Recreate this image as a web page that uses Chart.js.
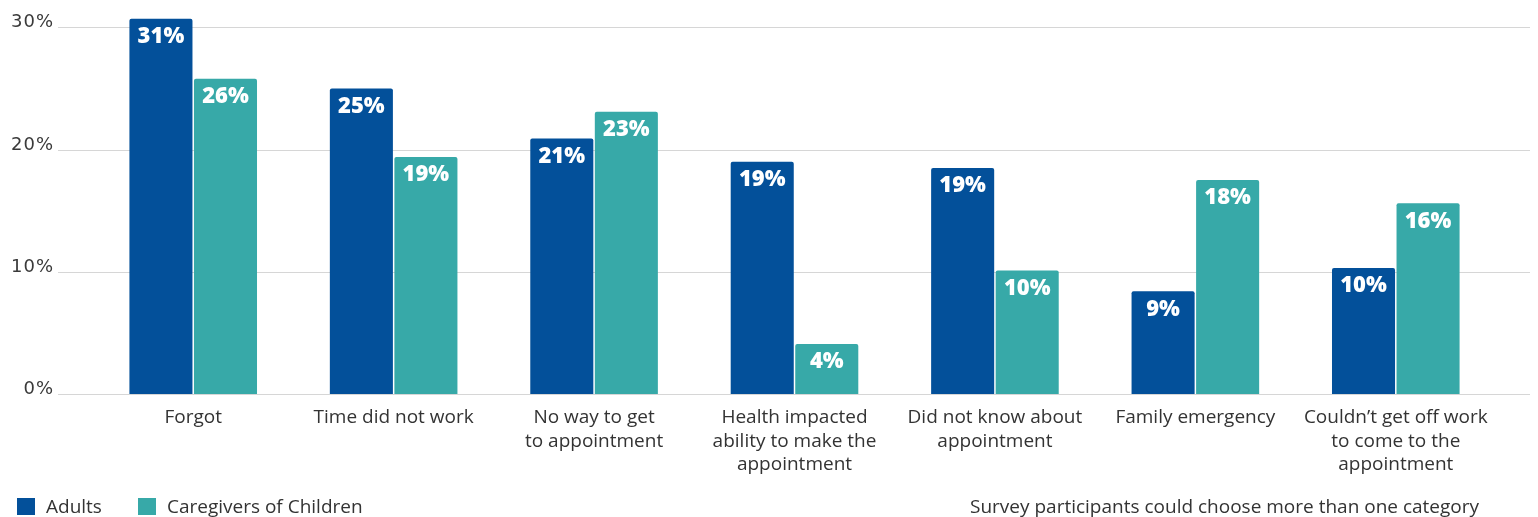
<!DOCTYPE html>
<html lang="en">
<head>
    <meta charset="UTF-8">
    <title>Reasons for missed appointments</title>
    <script src="https://cdn.jsdelivr.net/npm/chart.js"></script>
    <style>
        body { margin: 0; background: #fff; font-family: "Open Sans", sans-serif; color: #333; }
        .wrap { position: relative; width: 1538px; height: 517px; overflow: hidden; }
        .legend { position: absolute; left: 17px; top: 493px; font-size: 19px; white-space: nowrap; }
        .legend span.box { display: inline-block; width: 18px; height: 17px; vertical-align: -2px; margin-right: 11px; }
        .legend span.item { margin-right: 36px; }
        .note { position: absolute; left: 970px; top: 493px; font-size: 19px; white-space: nowrap; }
    </style>
</head>
<body>
<div class="wrap">
    <canvas id="chart" width="1538" height="517"></canvas>
    <div class="legend" id="legend"></div>
    <div class="note">Survey participants could choose more than one category</div>
</div>
<script>
    // data
    const categories = [
        ["Forgot"],
        ["Time did not work"],
        ["No way to get", "to appointment"],
        ["Health impacted", "ability to make the", "appointment"],
        ["Did not know about", "appointment"],
        ["Family emergency"],
        ["Couldn\u2019t get off work", "to come to the", "appointment"]
    ];
    const adults = [30.7, 25.0, 20.9, 19.0, 18.5, 8.4, 10.3];
    const caregivers = [25.8, 19.4, 23.1, 4.1, 10.1, 17.5, 15.6];
    const adultLabels = ["31%", "25%", "21%", "19%", "19%", "9%", "10%"];
    const caregiverLabels = ["26%", "19%", "23%", "4%", "10%", "18%", "16%"];
    const yTicks = [0, 10, 20, 30];

    const blue = "#03509a";
    const teal = "#37a9a8";

    // long grey gridlines running past the bars, with the % labels above them
    const gridPlugin = {
        id: "wideGrid",
        beforeDatasetsDraw(chart) {
            const ctx = chart.ctx;
            const y = chart.scales.y;
            ctx.save();
            ctx.strokeStyle = "#d6d6d6";
            ctx.lineWidth = 1;
            ctx.fillStyle = "#3a3a3a";
            ctx.font = "18px 'DejaVu Sans'";
            ctx.letterSpacing = "1px";
            ctx.textAlign = "right";
            ctx.textBaseline = "middle";
            yTicks.forEach(v => {
                const py = Math.round(y.getPixelForValue(v)) + 0.5;
                ctx.beginPath();
                ctx.moveTo(58, py);
                ctx.lineTo(1530, py);
                ctx.stroke();
                ctx.fillText(v + "%", 54, py - 5);
            });
            ctx.restore();
        }
    };

    // white value labels inside the top of each bar
    const valuePlugin = {
        id: "values",
        afterDatasetsDraw(chart) {
            const ctx = chart.ctx;
            ctx.save();
            ctx.fillStyle = "#fff";
            ctx.font = "800 22px 'Open Sans'";
            ctx.textAlign = "center";
            ctx.textBaseline = "middle";
            chart.data.datasets.forEach((ds, i) => {
                chart.getDatasetMeta(i).data.forEach((bar, j) => {
                    ctx.fillText(ds.valueLabels[j], bar.x, bar.y + 18);
                });
            });
            ctx.restore();
        }
    };

    const chart = new Chart(document.getElementById("chart"), {
        type: "bar",
        data: {
            labels: categories,
            datasets: [
                {
                    label: "Adults",
                    data: adults,
                    valueLabels: adultLabels,
                    backgroundColor: blue,
                    borderRadius: { topLeft: 2, topRight: 2 },
                    borderSkipped: "bottom",
                    categoryPercentage: 0.644,
                    barPercentage: 0.977
                },
                {
                    label: "Caregivers of Children",
                    data: caregivers,
                    valueLabels: caregiverLabels,
                    backgroundColor: teal,
                    borderRadius: { topLeft: 2, topRight: 2 },
                    borderSkipped: "bottom",
                    categoryPercentage: 0.644,
                    barPercentage: 0.977
                }
            ]
        },
        options: {
            responsive: false,
            animation: false,
            layout: { padding: { top: 9, right: 42, bottom: 0, left: 0 } },
            plugins: {
                legend: { display: false },
                tooltip: { enabled: false }
            },
            scales: {
                x: {
                    grid: { display: false },
                    border: { display: false },
                    ticks: {
                        color: "#333",
                        font: { family: "Open Sans", size: 19, lineHeight: 1.24 },
                        padding: 4,
                        maxRotation: 0,
                        autoSkip: false
                    },
                    afterFit(scale) { scale.height = 123; }
                },
                y: {
                    min: 0,
                    max: 31.5,
                    grid: { display: false, drawTicks: false },
                    border: { display: false },
                    ticks: { display: false, stepSize: 10 },
                    afterFit(scale) { scale.width = 93; }
                }
            }
        },
        plugins: [gridPlugin, valuePlugin]
    });

    // html legend under the chart
    const legend = document.getElementById("legend");
    chart.data.datasets.forEach(ds => {
        const item = document.createElement("span");
        item.className = "item";
        item.innerHTML = '<span class="box" style="background:' + ds.backgroundColor + '"></span>' + ds.label;
        legend.appendChild(item);
    });
</script>
</body>
</html>
